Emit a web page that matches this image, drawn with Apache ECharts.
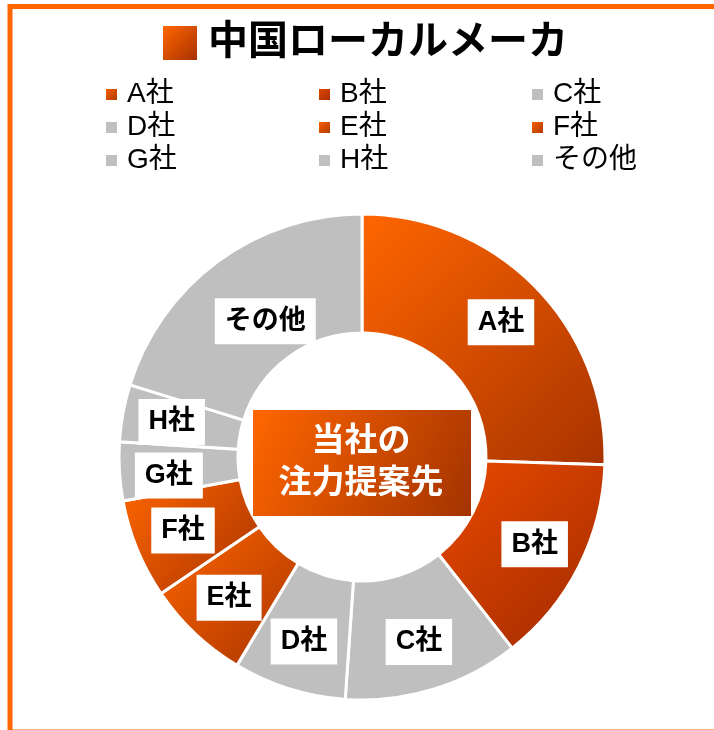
<!DOCTYPE html>
<html>
<head>
<meta charset="utf-8">
<script src="https://cdn.jsdelivr.net/npm/echarts@6/dist/echarts.min.js"></script>
<style>
html, body { margin: 0; padding: 0; background: #fff; }
#chart { width: 714px; height: 730px; }
</style>
</head>
<body>
<div id="chart"></div>
<script>
// 中国ローカルメーカ シェア（図から読み取り、%）
const companies = ['A社', 'B社', 'C社', 'D社', 'E社', 'F社', 'G社', 'H社', 'その他']
const shares = [25.5, 13.9, 11.7, 7.5, 6.9, 6.6, 3.9, 3.8, 20.2]
// 色分け（orange/red = 当社の注力提案先）
const colorKind = ['orange', 'red', 'gray', 'gray', 'orange', 'orange', 'gray', 'gray', 'gray']

const FONT = '"Liberation Sans", "Noto Sans CJK JP", sans-serif'

const grad = (from, to) => new echarts.graphic.LinearGradient(0, 0, 1, 1, [
  { offset: 0, color: from },
  { offset: 1, color: to }
])
const fills = {
  orange: () => grad('#ff6600', '#a83300'),
  red: () => grad('#ea4a00', '#a02a00'),
  gray: () => '#bfbfbf'
}

const pieData = companies.map((name, i) => ({
  name: name,
  value: shares[i],
  itemStyle: { color: fills[colorKind[i]]() }
}))
// ラベル用（透明、少し外側に寄せる）
const labelData = companies.map((name, i) => ({ name: name, value: shares[i] }))

// 重なり回避の微調整
const labelNudge = { 'G社': { dy: 7 }, 'その他': { dx: 18, dy: 20 } }

const myChart = echarts.init(document.getElementById('chart'), null, { renderer: 'canvas' })

const option = {
  animation: false,
  title: {
    text: '中国ローカルメーカ',
    left: 208,
    top: 23,
    padding: 0,
    textStyle: { fontFamily: FONT, fontSize: 40, fontWeight: 'bold', color: '#000' }
  },
  legend: {
    data: companies,
    left: 104,
    top: 78,
    width: 640,
    padding: 0,
    orient: 'horizontal',
    itemGap: 0,
    itemWidth: 13,
    itemHeight: 13,
    icon: 'rect',
    selectedMode: false,
    textStyle: {
      fontFamily: FONT,
      fontSize: 28,
      color: '#000',
      width: 190,
      lineHeight: 33,
      padding: [0, 0, 0, 4]
    }
  },
  graphic: [
    {
      // 外枠
      type: 'rect',
      silent: true,
      shape: { x: 10, y: 6.5, width: 720, height: 725.5 },
      style: { fill: 'none', stroke: '#ff6600', lineWidth: 5 }
    },
    {
      // タイトル横のマーク
      type: 'rect',
      silent: true,
      shape: { x: 163, y: 26, width: 34, height: 34 },
      style: { fill: grad('#ff6600', '#a83300') }
    },
    {
      type: 'rect',
      silent: true,
      z: 10,
      shape: { x: 253, y: 410, width: 218, height: 106 },
      style: { fill: grad('#ff6600', '#a33300') }
    },
    {
      type: 'text',
      silent: true,
      z: 11,
      x: 361,
      y: 463,
      style: {
        text: '当社の\n注力提案先',
        fill: '#fff',
        font: 'bold 33px ' + FONT,
        lineHeight: 42,
        align: 'center',
        verticalAlign: 'middle'
      }
    }
  ],
  series: [
    {
      name: 'share',
      type: 'pie',
      center: [362, 457],
      radius: [124, 243],
      startAngle: 90,
      clockwise: true,
      silent: true,
      itemStyle: { borderColor: '#fff', borderWidth: 3 },
      label: { show: false },
      labelLine: { show: false },
      emphasis: { disabled: true },
      data: pieData
    },
    {
      name: 'labels',
      type: 'pie',
      center: [362, 457],
      radius: [138, 243],
      startAngle: 90,
      clockwise: true,
      silent: true,
      legendHoverLink: false,
      z: 3,
      avoidLabelOverlap: false,
      minShowLabelAngle: 0,
      itemStyle: { color: 'rgba(0,0,0,0)' },
      label: {
        show: true,
        position: 'inside',
        formatter: '{b}',
        backgroundColor: '#fff',
        padding: [9, 10],
        color: '#000',
        fontFamily: FONT,
        fontWeight: 'bold',
        fontSize: 27,
        lineHeight: 28
      },
      labelLine: { show: false },
      labelLayout: (params) => Object.assign({ hideOverlap: false }, labelNudge[companies[params.dataIndex]] || {}),
      emphasis: { disabled: true },
      data: labelData
    }
  ]
}

myChart.setOption(option)
</script>
</body>
</html>
